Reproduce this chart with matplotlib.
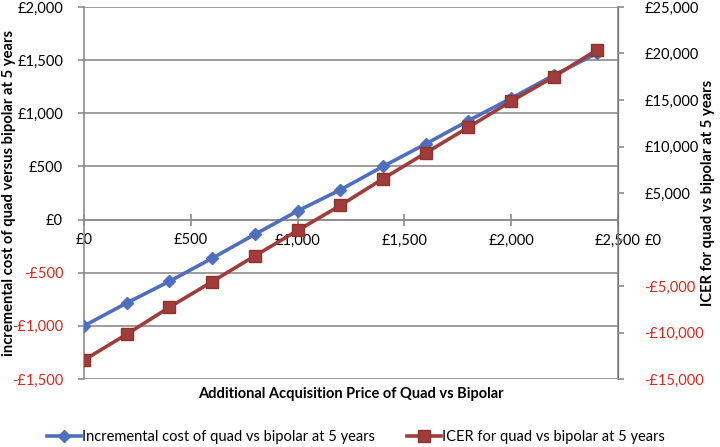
import matplotlib.pyplot as plt
from matplotlib.ticker import FuncFormatter, MultipleLocator

plt.rcParams['font.family'] = ['Lato', 'DejaVu Sans']

# additional acquisition price of quad vs bipolar (£)
price = [0, 200, 400, 600, 800, 1000, 1200, 1400, 1600, 1800, 2000, 2200, 2400]
# incremental cost of quad vs bipolar at 5 years (£), left axis
inc_cost = [-1000, -785, -581, -364, -139, 81, 280, 500, 712, 931, 1141, 1359, 1563]
# ICER for quad vs bipolar at 5 years (£), right axis
icer = [-12960, -10190, -7280, -4530, -1760, 970, 3660, 6540, 9310, 12070, 14870, 17500, 20370]

label_cost = 'Incremental cost of quad vs bipolar at 5 years'
label_icer = 'ICER for quad vs bipolar at 5 years'

blue = '#4F6EBE'
red = '#A03C3A'
neg_red = '#D42A20'
grey = '#8C8C8C'


def pounds(v, pos=None):
    v = int(round(v))
    if v < 0:
        return '-£{:,}'.format(-v)
    return '£{:,}'.format(v)


def colour_negatives(axis):
    for t in axis.get_ticklabels():
        if t.get_text().startswith('-'):
            t.set_color(neg_red)


fig = plt.figure(figsize=(7.2, 4.47), dpi=100)
ax = fig.add_axes([84 / 720, 1 - 379 / 447, (618 - 84) / 720, (379 - 7) / 447])
ax2 = ax.twinx()

l1, = ax.plot(price, inc_cost, color=blue, lw=2.6, marker='D', ms=6,
              mec=blue, mfc=blue, label=label_cost, zorder=3)
l2, = ax2.plot(price, icer, color=red, lw=2.6, marker='s', ms=8.5,
               mec='#8E3330', mfc=red, label=label_icer, zorder=3)

ax.set_xlim(0, 2500)
ax.set_ylim(-1500, 2000)
ax2.set_ylim(-15000, 25000)
ax.xaxis.set_major_locator(MultipleLocator(500))
ax.yaxis.set_major_locator(MultipleLocator(500))
ax2.yaxis.set_major_locator(MultipleLocator(5000))
ax.xaxis.set_major_formatter(FuncFormatter(pounds))
ax.yaxis.set_major_formatter(FuncFormatter(pounds))
ax2.yaxis.set_major_formatter(FuncFormatter(pounds))

ax.grid(axis='y', color=grey, lw=1.2)
ax.set_axisbelow(True)

ax.spines['top'].set_visible(False)
ax2.spines['top'].set_visible(False)
ax.spines['bottom'].set_position(('data', 0))
ax2.spines['bottom'].set_visible(False)
ax2.spines['left'].set_visible(False)
for sp in [ax.spines['left'], ax.spines['bottom'], ax2.spines['right']]:
    sp.set_color(grey)
    sp.set_linewidth(1.2)

ax.tick_params(axis='x', direction='inout', length=8, color=grey, width=1.2,
               labelsize=10.5, pad=6)
ax.tick_params(axis='y', direction='out', length=4, color=grey, width=1.2,
               labelsize=10.5, pad=11)
ax2.tick_params(axis='y', direction='out', length=4, color=grey, width=1.2,
                labelsize=10.5, pad=15)

fig.canvas.draw()
colour_negatives(ax.yaxis)
colour_negatives(ax2.yaxis)

ax.set_ylabel('incremental cost of quad versus bipolar at 5 years',
              fontweight='bold', fontsize=10.6)
ax.yaxis.set_label_coords(-0.127, 0.5)
ax2.set_ylabel('ICER for quad vs bipolar at 5 years', fontweight='bold', fontsize=10.6)
ax2.yaxis.set_label_coords(1.156, 0.5)
fig.text(351 / 720, 1 - 394 / 447, 'Additional Acquisition Price of Quad vs Bipolar',
         ha='center', va='center', fontweight='bold', fontsize=10.5)

fig.legend([l1, l2], [label_cost, label_icer], loc='center',
           bbox_to_anchor=(356 / 720, 1 - 437 / 447), ncol=2, frameon=False,
           fontsize=10.5, handlelength=2.3, columnspacing=2.2, handletextpad=0.1)

fig.savefig('out.png', dpi=100)
